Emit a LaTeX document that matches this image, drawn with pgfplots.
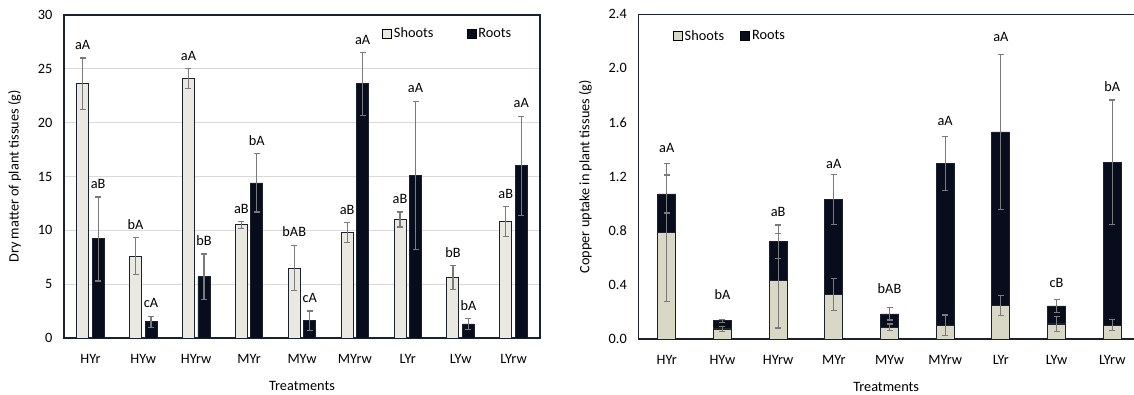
\documentclass[border=0pt]{standalone}
\usepackage{pgfplots}
\pgfplotsset{compat=1.18}
\usepackage{pgfplotstable}
\usepackage{fontspec}
\setmainfont{Carlito}
\definecolor{shootL}{HTML}{E9E9E1}
\definecolor{shootR}{HTML}{D9D7C5}
\definecolor{rootc}{HTML}{070D1C}
\definecolor{edge}{HTML}{1A2230}
\definecolor{errc}{HTML}{7A7A7A}

% left: dry matter (g)
\pgfplotstableread{
x s se r re
0 23.6 2.4 9.2 3.9
1 7.6 1.7 1.5 0.5
2 24.1 0.9 5.7 2.1
3 10.5 0.3 14.4 2.7
4 6.5 2.1 1.6 0.9
5 9.8 0.9 23.6 2.9
6 11.0 0.7 15.1 6.9
7 5.6 1.1 1.3 0.5
8 10.8 1.4 16.0 4.6
}\dry

% right: copper uptake (g)
\pgfplotstableread{
x s se r re
0 0.786 0.51 0.286 0.14
1 0.074 0.02 0.061 0.012
2 0.431 0.35 0.288 0.123
3 0.330 0.12 0.702 0.185
4 0.086 0.025 0.099 0.045
5 0.103 0.075 1.193 0.20
6 0.246 0.073 1.284 0.575
7 0.111 0.057 0.133 0.05
8 0.103 0.04 1.203 0.46
}\cu

\tikzset{
  lblS/.style={anchor=base, inner sep=0pt, xshift=-7.75pt, yshift=8.5pt},
  lblR/.style={anchor=base, inner sep=0pt, xshift=7.75pt, yshift=8.5pt},
  lblC/.style={anchor=base, inner sep=0pt},
}
\pgfplotsset{
  sqleg/.style={legend image code/.code={\draw[##1,draw=black,line width=0.8pt] (0pt,-4.5pt) rectangle (9pt,4.5pt);}},
  myerr/.style={error bars/.cd, y dir=both, y explicit,
    error mark=|,
    error bar style={draw=errc, line width=1.2pt},
    error mark options={draw=errc, mark size=3pt, line width=1.2pt}},
}

\begin{document}
\begin{tikzpicture}
\useasboundingbox (0pt,0pt) rectangle (1134pt,395pt);
\pgfplotsset{
  every axis/.append style={
    font=\fontsize{14.3}{16}\selectfont,
    /pgf/number format/assume math mode=true,
    scale only axis,
    xtick=data,
    xticklabels={HYr,HYw,HYrw,MYr,MYw,MYrw,LYr,LYw,LYrw},
    major tick length=0pt,
    tick label style={font=\fontsize{14.3}{16}\selectfont},
    xticklabel style={yshift=-13pt},
    yticklabel style={xshift=-8pt},
    xlabel={Treatments},
    xlabel style={yshift=-11pt},
    ylabel style={yshift=10pt},
    clip=false,
    legend cell align=left,
  },
}
% ---------------- left ----------------
\begin{axis}[
  at={(64pt,57pt)}, anchor=south west,
  width=476pt, height=323pt,
  xmin=-0.5, xmax=8.5,
  ymin=0, ymax=30,
  ytick={0,5,10,15,20,25,30},
  ymajorgrids, grid style={draw=black!15, line width=1pt},
  axis line style={draw=edge, line width=1.1pt},
  ylabel={Dry matter of plant tissues (g)},
  ybar, bar width=12pt,
  legend columns=2,
  legend style={draw=none, fill=none, at={(0.668,0.943)}, anchor=west, inner sep=0pt,
    /tikz/every even column/.append style={column sep=31pt}, font=\fontsize{14.3}{16}\selectfont},
]
\addplot[fill=shootL, draw=edge, line width=0.9pt, bar shift=-7.75pt, sqleg, myerr]
  table[x=x, y=s, y error=se] {\dry};
\addlegendentry{Shoots}
\addplot[fill=rootc, draw=edge, line width=0.9pt, bar shift=7.75pt, sqleg, myerr]
  table[x=x, y=r, y error=re] {\dry};
\addlegendentry{Roots}
\node[lblS] at (axis cs:0,26.0) {aA};
\node[lblS] at (axis cs:1,9.3) {bA};
\node[lblS] at (axis cs:2,25.0) {aA};
\node[lblS] at (axis cs:3,10.8) {aB};
\node[lblS] at (axis cs:4,8.6) {bAB};
\node[lblS] at (axis cs:5,10.7) {aB};
\node[lblS] at (axis cs:6,11.7) {aB};
\node[lblS] at (axis cs:7,6.7) {bB};
\node[lblS] at (axis cs:8,12.2) {aB};
\node[lblR] at (axis cs:0,13.1) {aB};
\node[lblR] at (axis cs:1,2.0) {cA};
\node[lblR] at (axis cs:2,7.8) {bB};
\node[lblR] at (axis cs:3,17.1) {bA};
\node[lblR] at (axis cs:4,2.5) {cA};
\node[lblR] at (axis cs:5,26.5) {aA};
\node[lblR] at (axis cs:6,22.0) {aA};
\node[lblR] at (axis cs:7,1.8) {bA};
\node[lblR] at (axis cs:8,20.6) {aA};
\end{axis}
% ---------------- right ----------------
\begin{axis}[
  at={(638.3pt,56pt)}, anchor=south west,
  width=495.7pt, height=324.7pt,
  xmin=-0.51, xmax=8.39,
  ymin=0, ymax=2.4,
  ytick={0,0.4,0.8,1.2,1.6,2.0,2.4},
  yticklabel style={/pgf/number format/.cd, fixed, fixed zerofill, precision=1},
  axis x line*=bottom, axis y line*=left,
  axis line style={draw=edge, line width=1.1pt},
  ylabel={Copper uptake in plant tissues (g)},
  ybar, bar width=18pt,
  legend columns=2,
  legend style={draw=none, fill=none, at={(0.0694,0.933)}, anchor=west, inner sep=0pt,
    /tikz/every even column/.append style={column sep=14pt}, font=\fontsize{14.3}{16}\selectfont},
]
\draw[draw=edge, line width=1.1pt] (rel axis cs:0,1) -- (rel axis cs:1,1);
\addplot[fill=rootc, draw=edge, line width=0.9pt, bar shift=0pt, forget plot]
  table[x=x, y expr=\thisrow{s}+\thisrow{r}] {\cu};
\addplot[fill=shootR, draw=edge, line width=0.9pt, bar shift=0pt, forget plot]
  table[x=x, y=s] {\cu};
\addplot[draw=none, fill=none, bar shift=0pt, forget plot, myerr]
  table[x=x, y=s, y error=se] {\cu};
\addplot[draw=none, fill=none, bar shift=0pt, forget plot, myerr]
  table[x=x, y expr=\thisrow{s}+\thisrow{r}, y error=re] {\cu};
\addlegendimage{fill=shootR, draw=edge, sqleg}
\addlegendentry{Shoots}
\addlegendimage{fill=rootc, draw=edge, sqleg}
\addlegendentry{Roots}
\node[lblC] at (axis cs:0,1.377) {aA};
\node[lblC] at (axis cs:1,0.293) {bA};
\node[lblC] at (axis cs:2,0.909) {aB};
\node[lblC] at (axis cs:3,1.26) {aA};
\node[lblC] at (axis cs:4,0.338) {bAB};
\node[lblC] at (axis cs:5,1.58) {aA};
\node[lblC] at (axis cs:6,2.197) {aA};
\node[lblC] at (axis cs:7,0.379) {cB};
\node[lblC] at (axis cs:8,1.828) {bA};
\end{axis}
\end{tikzpicture}
\end{document}
